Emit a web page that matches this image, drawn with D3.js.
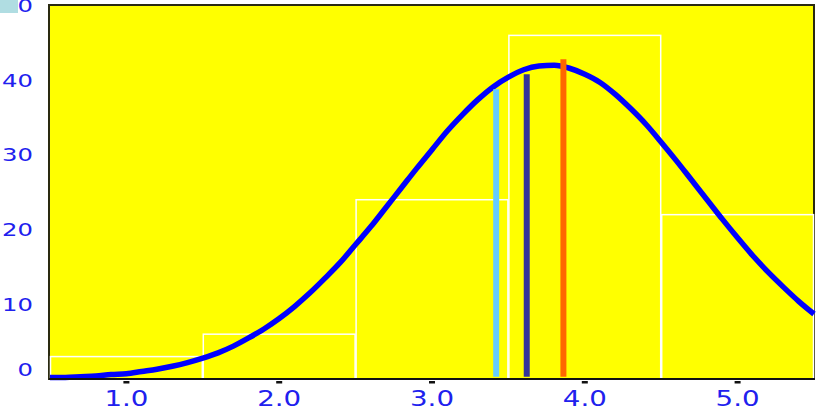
<!DOCTYPE html>
<html>
<head>
<meta charset="utf-8">
<script src="https://cdn.jsdelivr.net/npm/d3@7"></script>
<style>
  body { margin: 0; background: #fff; }
  text { font-family: "DejaVu Sans", Verdana, sans-serif; }
</style>
</head>
<body>
<script>
var W = 827, H = 418;
var plot = {left: 50, right: 814, top: 5.5, bottom: 379};

// histogram bins (lower edge, upper edge, count)
var binLo = [0.5, 1.5, 2.5, 3.5, 4.5];
var binHi = [1.5, 2.5, 3.5, 4.5, 5.5];
var binCount = [3, 6, 24, 46, 22];

// fitted curve
var curveX = [0.5,0.6,0.7,0.8,0.9,1.0,1.1,1.2,1.3,1.4,1.5,1.6,1.7,1.8,1.9,2.0,2.1,2.2,2.3,2.4,
              2.5,2.6,2.7,2.8,2.9,3.0,3.1,3.2,3.3,3.4,3.5,3.6,3.7,3.8,3.9,4.0,4.1,4.2,4.3,4.4,
              4.5,4.6,4.7,4.8,4.9,5.0,5.1,5.2,5.3,5.4,5.5];
var curveY = [0.2,0.2,0.3,0.4,0.6,0.7,1.0,1.3,1.7,2.2,2.8,3.5,4.4,5.5,6.7,8.1,9.7,11.5,13.5,15.6,
              18.0,20.4,23.0,25.6,28.2,30.7,33.2,35.4,37.4,39.1,40.4,41.4,41.9,42.0,41.6,40.8,39.7,38.1,36.2,34.1,
              31.7,29.2,26.6,24.0,21.4,18.9,16.5,14.3,12.3,10.4,8.7];

// marker lines (position, height, colour)
var markerX = [3.42, 3.62, 3.86];
var markerH = [38.8, 40.8, 42.8];
var markerColor = ["#66ccff", "#333399", "#ff6600"];

var xTicks = [1, 2, 3, 4, 5];
var yTicks = [0, 10, 20, 30, 40, 50];

var svg = d3.select("body").append("svg")
    .attr("width", W).attr("height", H);

var x = d3.scaleLinear().domain([0.5, 5.5]).range([plot.left, plot.right]);
var y = d3.scaleLinear().domain([0, 50]).range([plot.bottom, plot.top]);

// plot background
svg.append("rect")
    .attr("x", plot.left - 1).attr("y", plot.top - 0.5)
    .attr("width", plot.right - plot.left + 1)
    .attr("height", plot.bottom - plot.top + 0.5)
    .attr("fill", "#ffff00")
    .attr("stroke", "#2a2a10").attr("stroke-width", 2);

// histogram outlines
svg.selectAll("rect.bin")
    .data(binCount)
    .enter().append("rect")
    .attr("class", "bin")
    .attr("x", function(d, i) { return x(binLo[i]) + 0.5; })
    .attr("width", function(d, i) { return x(binHi[i]) - x(binLo[i]) - 1; })
    .attr("y", function(d) { return y(d); })
    .attr("height", function(d) { return y(0) - y(d); })
    .attr("fill", "none")
    .attr("stroke", "#fff").attr("stroke-width", 1.5);

// fitted curve
var line = d3.line()
    .x(function(d, i) { return x(curveX[i]); })
    .y(function(d) { return y(d); })
    .curve(d3.curveMonotoneX);
svg.append("path")
    .datum(curveY)
    .attr("d", line)
    .attr("fill", "none")
    .attr("stroke", "#0000ff")
    .attr("stroke-width", 5.5)
    .attr("stroke-linejoin", "round");

// marker lines
svg.selectAll("line.marker")
    .data(markerX)
    .enter().append("line")
    .attr("class", "marker")
    .attr("x1", function(d) { return x(d); })
    .attr("x2", function(d) { return x(d); })
    .attr("y1", y(0.3))
    .attr("y2", function(d, i) { return y(markerH[i]); })
    .attr("stroke", function(d, i) { return markerColor[i]; })
    .attr("stroke-width", 6);

// x axis line
svg.append("line")
    .attr("x1", plot.left - 1).attr("x2", plot.right + 1)
    .attr("y1", plot.bottom).attr("y2", plot.bottom)
    .attr("stroke", "#111").attr("stroke-width", 2);

// x ticks + labels
svg.selectAll("rect.xtick")
    .data(xTicks)
    .enter().append("rect")
    .attr("class", "xtick")
    .attr("x", function(d) { return x(d) - 3; })
    .attr("y", plot.bottom + 2)
    .attr("width", 6).attr("height", 2.5)
    .attr("fill", "#111");
svg.selectAll("text.xlab")
    .data(xTicks)
    .enter().append("text")
    .attr("class", "xlab")
    .attr("transform", function(d) { return "translate(" + x(d) + ",406) scale(1.35,1)"; })
    .attr("text-anchor", "middle")
    .attr("font-size", "20.5px")
    .attr("fill", "#2020ee")
    .text(function(d) { return d3.format(".1f")(d); });

// y labels
svg.selectAll("text.ylab")
    .data(yTicks)
    .enter().append("text")
    .attr("class", "ylab")
    .attr("transform", function(d) { return "translate(33," + Math.min(y(d), 370) + ") scale(1.35,1)"; })
    .attr("dy", "0.36em")
    .attr("text-anchor", "end")
    .attr("font-size", "18px")
    .attr("fill", "#2020ee")
    .text(function(d) { return d; });

// legend swatch at top-left corner
svg.append("rect")
    .attr("x", 0).attr("y", 0)
    .attr("width", 18).attr("height", 13)
    .attr("fill", "#b0dde2");
</script>
</body>
</html>
